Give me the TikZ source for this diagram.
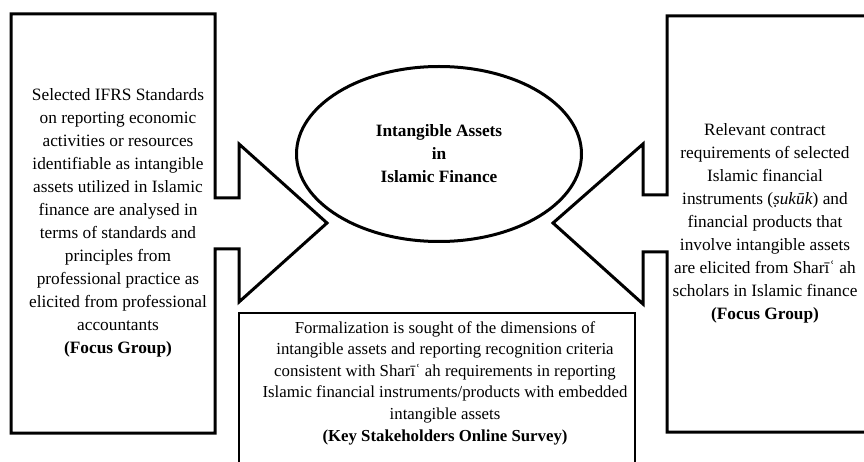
\documentclass[tikz,border=0pt]{standalone}
\usepackage{fontspec}
\setmainfont{Liberation Serif}
\usepackage{tikz}
\tikzstyle{outline}=[draw, line width=3pt, line join=miter]
\tikzstyle{thin}=[draw, line width=1.2pt]
\tikzstyle{txt}=[align=center, inner sep=0pt, font=\fontsize{17.3}{23}\selectfont]
\tikzstyle{hub}=[ellipse, draw, line width=3pt, minimum width=285pt, minimum height=175pt, inner sep=0pt, align=center, font=\bfseries\fontsize{17.3}{23}\selectfont]
\usetikzlibrary{shapes.geometric}

\begin{document}
\begin{tikzpicture}[x=1pt,y=-1pt]
\clip (0,0) rectangle (864,462);
\node (hub) [hub] at (439,154) {Intangible Assets\\in\\Islamic Finance};
\node (ifrs) [txt] at (118,223) {Selected IFRS Standards\\on reporting economic\\activities or resources\\identifiable as intangible\\assets utilized in Islamic\\finance are analysed in\\terms of standards and\\principles from\\professional practice as\\elicited from professional\\accountants\\\textbf{(Focus Group)}};
\node (shariah) [txt] at (765,223) {Relevant contract\\requirements of selected\\Islamic financial\\instruments (\textit{ṣukūk}) and\\financial products that\\involve intangible assets\\are elicited from Sharīʿ ah\\scholars in Islamic finance\\\textbf{(Focus Group)}};
\node (survey) [txt, font=\fontsize{16.8}{21.6}\selectfont] at (445,383) {Formalization is sought of the dimensions of\\intangible assets and reporting recognition criteria\\consistent with Sharīʿ ah requirements in reporting\\Islamic financial instruments/products with embedded\\intangible assets\\\textbf{(Key Stakeholders Online Survey)}};
\path[outline]
	(215,198) -- (215,14) -- (11,14) -- (11,433) -- (215,433) -- (215,249)
	-- (239,249) -- (239,302) -- (327,223) -- (239,144) -- (239,198) -- cycle;
\path[outline]
	(667,195) -- (667,16) -- (890,16) -- (890,432) -- (667,432) -- (667,252)
	-- (643,252) -- (643,304) -- (553,223) -- (643,144) -- (643,195) -- cycle;
\path[thin] (239,313) rectangle (635,480);
\end{tikzpicture}
\end{document}
